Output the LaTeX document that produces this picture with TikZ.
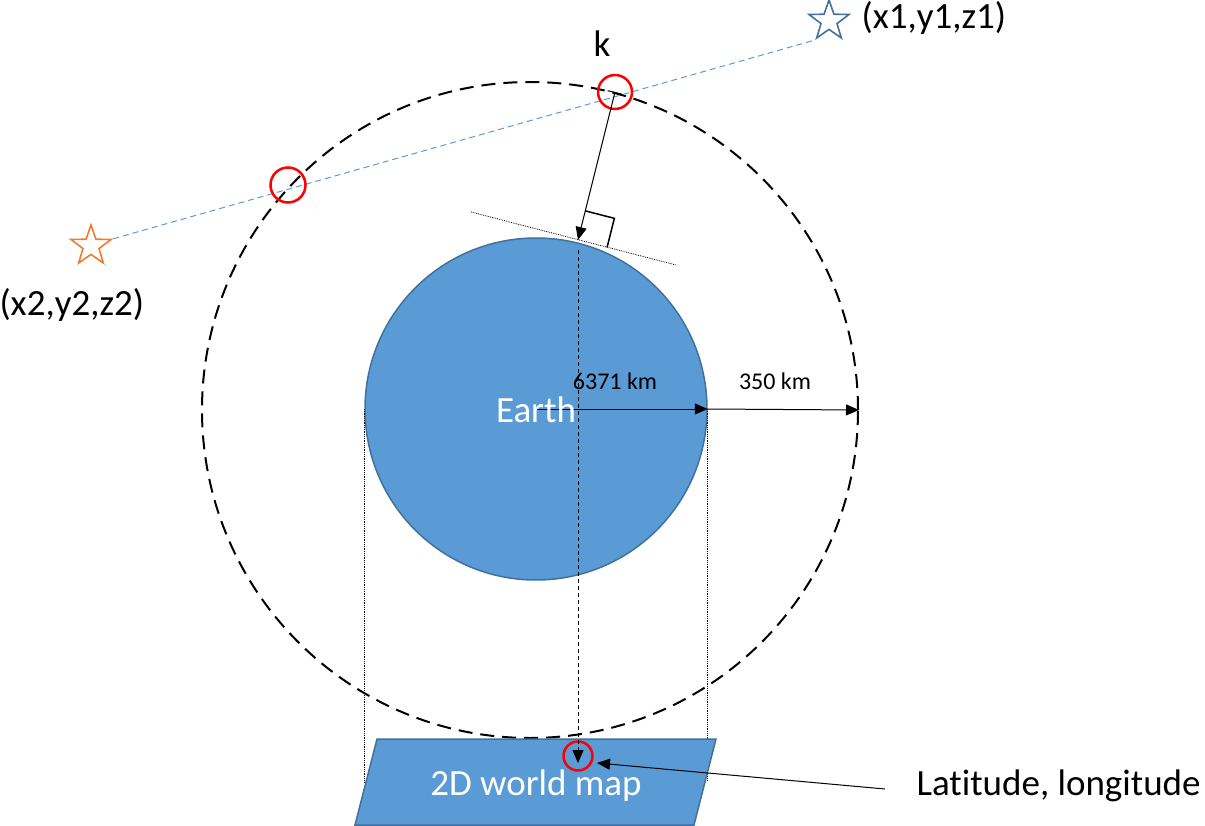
\documentclass[tikz,border=0pt]{standalone}
\usepackage{fontspec}
\setmainfont{Carlito}[Ligatures=NoCommon]
\usetikzlibrary{arrows.meta,shapes.geometric,positioning,calc}

\definecolor{earthblue}{HTML}{5B9BD5}
\definecolor{earthedge}{HTML}{41719C}
\definecolor{starorange}{HTML}{ED7D31}
\definecolor{hitred}{HTML}{FF0000}

\begin{document}
\begin{tikzpicture}[x=1pt,y=-1pt,
  hit/.style={circle,draw=hitred,line width=2.5pt,inner sep=0pt,minimum size=#1},
  hit/.default=34,
  satstar/.style={star,star points=5,star point ratio=2.5,draw=#1,line width=1.6pt,inner sep=0pt,minimum size=42},
  tip/.style={-{Triangle[length=13pt,width=11pt]}},
  bigtext/.style={font=\fontsize{37}{40}\selectfont},
  kmtext/.style={font=\fontsize{24}{26}\selectfont}]

% Page
\useasboundingbox (0,0) rectangle (1205,826);

% Orbit (350 km above the surface)
\node[circle,draw,dash pattern=on 14pt off 8pt,line width=2pt,inner sep=0pt,
      minimum size=656] (orbit) at (530,410) {};

% Earth
\node[circle,fill=earthblue,draw=earthedge,line width=1.5pt,inner sep=0pt,
      minimum size=342] (earth) at (536,409) {};

% Projection lines down to the map
\draw[densely dotted,line width=0.8pt] (earth.west) -- ++(0,374);
\draw[densely dotted,line width=0.8pt] (earth.east) -- ++(0,372);

% 2D world map
\filldraw[fill=earthblue,draw=earthedge,line width=1.5pt]
      (377,739) -- (716,739) -- (694,825) -- (355,825) -- cycle;
\node[bigtext,white,anchor=base] (maptext) at (536,795) {2D world map};

% Radii
\draw[tip,line width=1pt] (earth.center) -- (earth.east);
\draw[tip,line width=1pt] (earth.east) -- (orbit.east);
\node[kmtext,anchor=base] (rearth) at (615,389) {6371 km};
\node[kmtext,anchor=base] (rorbit) at (775,389) {350 km};
\node[bigtext,white,anchor=base] (earthtext) at (536,422) {Earth};

% Satellites and line of sight
\node[satstar=earthedge] (sat1) at (829,21) {};
\node[satstar=starorange] (sat2) at (91,246) {};
\draw[earthblue,line width=1pt,dash pattern=on 6pt off 4pt]
      (sat2.outer point 5) -- (sat1.outer point 3);
\node[bigtext,anchor=base west] (lab1) at (858,29) {(x1,y1,z1)};
\node[bigtext,anchor=base west] (lab2) at (-4,316) {(x2,y2,z2)};

% Crossings with the orbit
\node[hit] (k1) at (615,92) {};
\node[hit=35] (k2) at (288,185) {};
\node[bigtext,anchor=base] (klabel) at (602,57) {k};

% Tangent plane and normal from k
\coordinate (foot) at (578,240);
\coordinate (tanL) at (471,212);
\coordinate (tanR) at (676,265);
\draw[densely dotted,line width=0.8pt] (tanL) -- (tanR);
\draw[{Bar[width=15pt]}-{Triangle[length=13pt,width=11pt]},line width=1pt]
      (k1.center) -- (foot);
\coordinate (ra) at ($(foot)!30pt!(k1)$);
\coordinate (rb) at ($(foot)!30pt!(tanR)$);
\draw[line width=1.5pt] (ra) -- ($(ra)+(rb)-(foot)$) -- (rb);

% Sub-satellite point on the map
\node[hit=29] (kmap) at (578,756) {};
\draw[tip,line width=1pt,dash pattern=on 4pt off 3pt] (578,250) -- (578,763);
\node[bigtext,anchor=base west] (latlon) at (913,795) {Latitude, longitude};
\coordinate (latstart) at (885,789);
\draw[tip,line width=1pt] (latstart) -- (597,763);

\end{tikzpicture}
\end{document}
